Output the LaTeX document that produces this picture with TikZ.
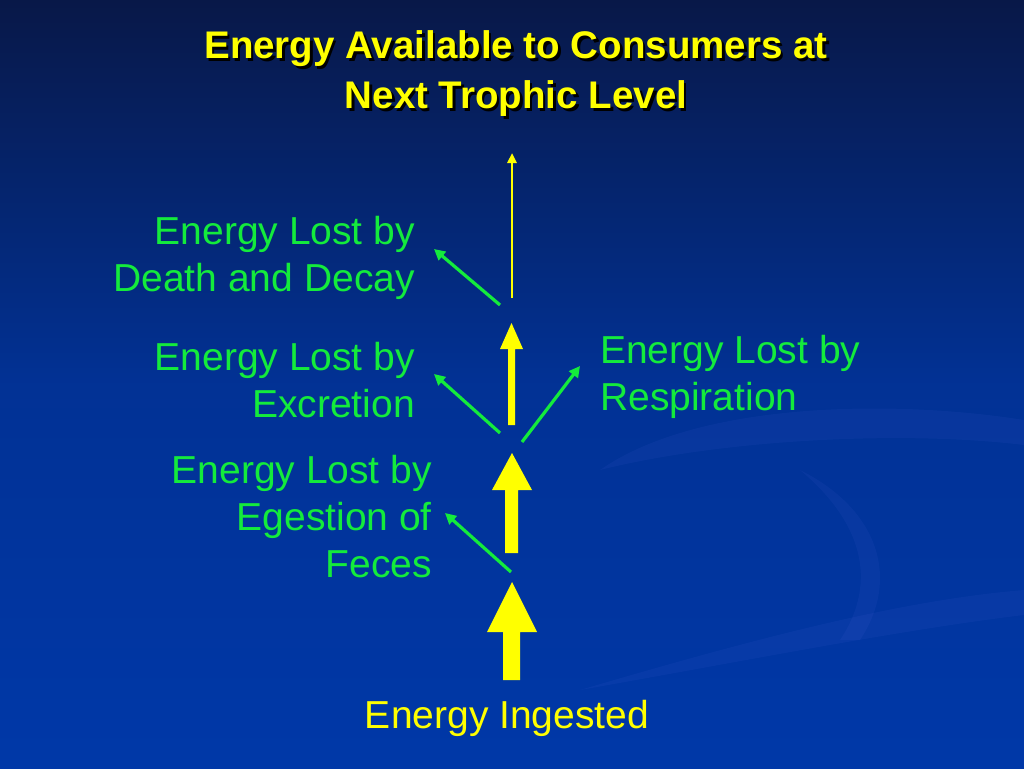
\documentclass[tikz,border=0pt]{standalone}
\usepackage{fontspec}
\setmainfont{Liberation Sans}
\usetikzlibrary{arrows.meta}
\definecolor{tgreen}{RGB}{20,235,60}
\definecolor{tyellow}{RGB}{255,255,0}
\definecolor{bgtop}{RGB}{8,24,72}
\definecolor{bgbot}{RGB}{0,56,168}
\begin{document}
\begin{tikzpicture}[x=1pt,y=-1pt,
  lbl/.style={text=tgreen,font=\fontsize{39}{47}\selectfont,inner sep=0pt},
  gar/.style={draw=tgreen,line width=3.2pt,-{Triangle[length=11pt,width=11pt]}},
  yar/.style={fill=tyellow,draw=none}]
\shade[top color=bgtop,bottom color=bgbot,middle color=bgbot!80!bgtop] (0,0) rectangle (1024,768);
\useasboundingbox (0,0) rectangle (1024,768);
% faint swooshes
\begin{scope}[opacity=0.06]
\fill[blue!50] (600,470) .. controls (700,400) and (900,400) .. (1024,420) -- (1024,445) .. controls (900,430) and (720,440) .. (600,470);
\fill[blue!50] (580,690) .. controls (750,640) and (900,600) .. (1024,590) -- (1024,615) .. controls (900,630) and (750,660) .. (580,690);
\fill[blue!50] (800,470) .. controls (860,520) and (880,580) .. (840,640) -- (860,640) .. controls (900,580) and (880,510) .. (800,470);
\end{scope}
% title (with shadow)
\node[coordinate] (tc) at (516,74) {};
\node[text=black,font=\bfseries\fontsize{38.5}{50}\selectfont,align=center,inner sep=0pt] (tsh) at (518.5,76.5) {Energy Available to Consumers at\\Next Trophic Level};
\node[text=tyellow,font=\bfseries\fontsize{38.5}{50}\selectfont,align=center,inner sep=0pt] (title) at (tc) {Energy Available to Consumers at\\Next Trophic Level};
% yellow arrows
\fill[yar] (503,680) -- (503,632) -- (487,632) -- (512,582) -- (537,632) -- (520,632) -- (520,680) -- cycle;
\fill[yar] (505,553) -- (505,490) -- (492,490) -- (512,453) -- (532,490) -- (518,490) -- (518,553) -- cycle;
\fill[yar] (508,425) -- (508,349) -- (500,349) -- (511.5,323) -- (523,349) -- (515,349) -- (515,425) -- cycle;
\coordinate (t0) at (512,298);
\coordinate (t1) at (512,153);
\draw[tyellow,line width=2.6pt,-{Triangle[length=10pt,width=9pt]}] (t0) -- (t1);
% green arrows
\coordinate (d0) at (500,305); \coordinate (d1) at (434,249);
\coordinate (e0) at (500,433); \coordinate (e1) at (434,374);
\coordinate (r0) at (522,442); \coordinate (r1) at (580,366);
\coordinate (g0) at (511,572); \coordinate (g1) at (445,513);
\draw[gar] (d0) -- (d1);
\draw[gar] (e0) -- (e1);
\draw[gar] (r0) -- (r1);
\draw[gar] (g0) -- (g1);
% labels
\node[lbl,anchor=north east,align=right] (ld) at (415,216) {Energy Lost by\\Death and Decay};
\node[lbl,anchor=north east,align=right] (le) at (415,342) {Energy Lost by\\Excretion};
\node[lbl,anchor=north east,align=right] (lg) at (432,455) {Energy Lost by\\Egestion of\\Feces};
\node[lbl,anchor=north west,align=left] (lr) at (600,335) {Energy Lost by\\Respiration};
\node[lbl,text=tyellow,anchor=north] (li) at (507,700) {Energy Ingested};
\end{tikzpicture}
\end{document}
